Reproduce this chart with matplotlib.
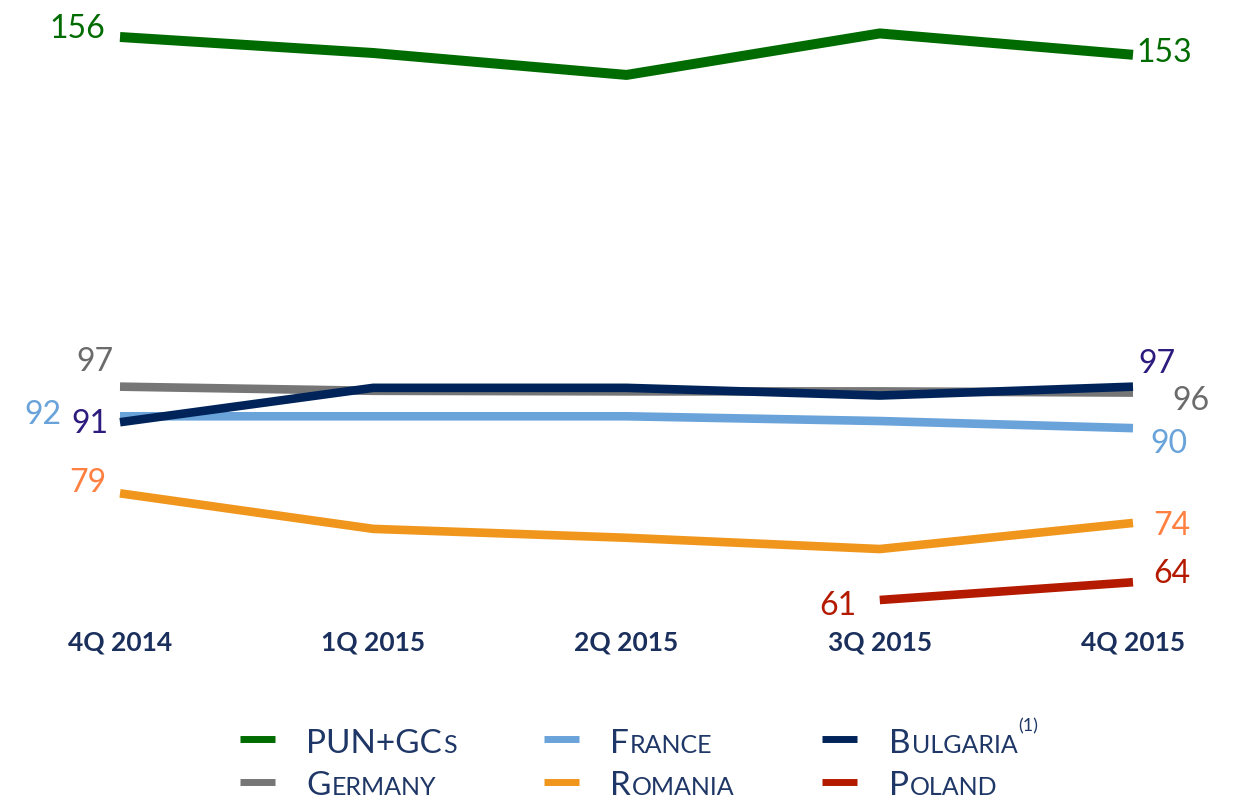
import matplotlib
matplotlib.use("Agg")
import matplotlib.pyplot as plt
from matplotlib.lines import Line2D

plt.rcParams['font.family'] = ['Lato', 'DejaVu Sans']

quarters = ['4Q 2014', '1Q 2015', '2Q 2015', '3Q 2015', '4Q 2015']
pun = [156, 153.3, 149.6, 156.6, 153]
germany = [97, 96.3, 96.2, 96.2, 96]
france = [92, 92, 92, 91.2, 90]
bulgaria = [91, 96.8, 96.8, 95.5, 97]
romania = [79, 73.0, 71.5, 69.6, 74]
poland = [None, None, None, 61, 64]

W, H = 1239, 800
fig = plt.figure(figsize=(W / 100, H / 100), dpi=100)
# axes box in pixels: x 120..1133, y 37..600
ax = fig.add_axes([120 / W, 1 - 600 / H, 1013 / W, 563 / H])
ax.set_xlim(0, 4)
ax.set_ylim(61, 156)
for s in ax.spines.values():
    s.set_visible(False)
ax.set_yticks([])
x = list(range(len(quarters)))
ax.set_xticks(x)
ax.set_xticklabels(quarters, fontsize=19, fontweight='bold', color='#1b2f5c')
ax.tick_params(axis='x', length=0, pad=22)

series = [
    # values, line colour, width
    (germany, '#767676', 6.2),
    (france, '#69a3da', 6.2),
    (bulgaria, '#00245a', 6.2),
    (romania, '#f0961c', 6.2),
    (pun, '#006b00', 7.2),
]
for vals, c, lw in series:
    ax.plot(x, vals, color=c, lw=lw, solid_capstyle='butt', clip_on=False)
ax.plot(x[3:], poland[3:], color='#b41a00', lw=6.2, solid_capstyle='butt', clip_on=False)

# value labels: (text, x index, value, dx, dy, ha, colour)
labels = [
    ('156', 0, pun[0], -15, -1, 'right', '#006b00'),
    ('153', 4, pun[4], 3, -7, 'left', '#006b00'),
    ('97', 0, germany[0], -7, 16, 'right', '#6b6b6b'),
    ('92', 0, france[0], -59, -8, 'right', '#69a3da'),
    ('91', 0, bulgaria[0], -12, -11, 'right', '#2d1b7e'),
    ('79', 0, romania[0], -14, 1, 'right', '#ff8040'),
    ('97', 4, bulgaria[4], 5, 14, 'left', '#2d1b7e'),
    ('96', 4, germany[4], 39, -17, 'left', '#6b6b6b'),
    ('90', 4, france[4], 17, -25, 'left', '#69a3da'),
    ('74', 4, romania[4], 20, -12, 'left', '#ff8040'),
    ('64', 4, poland[4], 20, -1, 'left', '#b41a00'),
    ('61', 3, poland[3], -23, -15, 'right', '#b41a00'),
]
for t, xi, v, dx, dy, ha, c in labels:
    ax.annotate(t, (xi, v), xytext=(dx, dy), textcoords='offset pixels',
                ha=ha, va='baseline', fontsize=23, color=c)

# legend drawn by hand (small caps)
navy = '#1f3766'
renderer = fig.canvas.get_renderer()


def smallcaps(px, py, parts):
    cur = px
    for txt, size, rise in parts:
        t = fig.text(cur / W, 1 - (py - rise) / H, txt, fontsize=size,
                     color=navy, va='baseline', ha='left')
        bb = t.get_window_extent(renderer)
        cur = bb.x1 + 1


legend_items = [
    ('#006b00', 240, 739, 306, 753, [('PUN+GC', 24, 0), ('S', 18, 0)]),
    ('#69a3da', 544, 739, 610, 753, [('F', 24, 0), ('RANCE', 18, 0)]),
    ('#00245a', 822, 739, 889, 753, [('B', 24, 0), ('ULGARIA', 18, 0), ('(1)', 13, 22)]),
    ('#767676', 240, 782, 306, 795, [('G', 24, 0), ('ERMANY', 18, 0)]),
    ('#f0961c', 544, 782, 610, 795, [('R', 24, 0), ('OMANIA', 18, 0)]),
    ('#b41a00', 822, 782, 889, 795, [('P', 24, 0), ('OLAND', 18, 0)]),
]
for c, hx, hy, tx, ty, parts in legend_items:
    fig.add_artist(Line2D([hx / W, (hx + 35) / W], [1 - hy / H, 1 - hy / H],
                          transform=fig.transFigure, color=c, lw=5,
                          solid_capstyle='butt'))
    smallcaps(tx, ty, parts)

fig.savefig('out.png', dpi=100)
